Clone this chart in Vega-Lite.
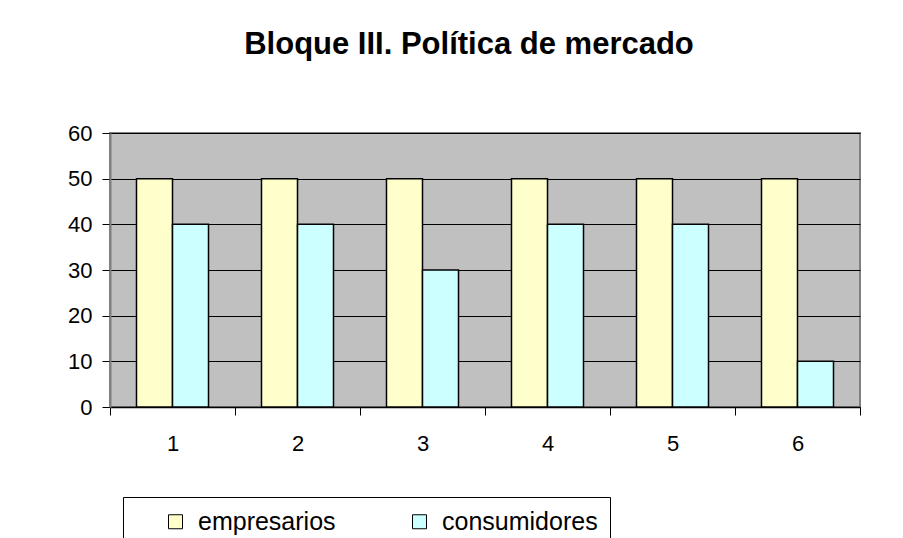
{
  "$schema": "https://vega.github.io/schema/vega-lite/v6.json",
  "autosize": "none",
  "width": 750,
  "height": 274,
  "padding": {"left": 110, "top": 133, "right": 43, "bottom": 131},
  "background": "white",
  "title": {
    "text": "Bloque III. Política de mercado",
    "font": "Liberation Sans",
    "fontSize": 31,
    "fontWeight": "bold",
    "color": "black",
    "anchor": "middle",
    "frame": "group",
    "baseline": "alphabetic",
    "offset": 37,
    "dx": -16
  },
  "data": {
    "values": [
      {"pregunta": "1", "grupo": "empresarios", "valor": 50},
      {"pregunta": "1", "grupo": "consumidores", "valor": 40},
      {"pregunta": "2", "grupo": "empresarios", "valor": 50},
      {"pregunta": "2", "grupo": "consumidores", "valor": 40},
      {"pregunta": "3", "grupo": "empresarios", "valor": 50},
      {"pregunta": "3", "grupo": "consumidores", "valor": 30},
      {"pregunta": "4", "grupo": "empresarios", "valor": 50},
      {"pregunta": "4", "grupo": "consumidores", "valor": 40},
      {"pregunta": "5", "grupo": "empresarios", "valor": 50},
      {"pregunta": "5", "grupo": "consumidores", "valor": 40},
      {"pregunta": "6", "grupo": "empresarios", "valor": 50},
      {"pregunta": "6", "grupo": "consumidores", "valor": 10}
    ]
  },
  "mark": {"type": "bar", "stroke": "black", "strokeWidth": 1.5},
  "encoding": {
    "x": {
      "field": "pregunta",
      "type": "nominal",
      "scale": {"paddingInner": 0, "paddingOuter": 0},
      "axis": {
        "title": null,
        "labelAngle": 0,
        "tickBand": "extent",
        "labelFont": "Liberation Sans",
        "labelFontSize": 22,
        "labelColor": "black",
        "labelPadding": 18,
        "tickSize": 8,
        "tickColor": "black",
        "domainColor": "black",
        "domainWidth": 1.5,
        "grid": false
      }
    },
    "xOffset": {
      "field": "grupo",
      "sort": ["empresarios", "consumidores"],
      "scale": {"paddingInner": 0, "paddingOuter": 0.736}
    },
    "y": {
      "field": "valor",
      "type": "quantitative",
      "scale": {"domain": [0, 60], "nice": false},
      "axis": {
        "title": null,
        "values": [0, 10, 20, 30, 40, 50, 60],
        "labelFont": "Liberation Sans",
        "labelFontSize": 22,
        "labelColor": "black",
        "labelPadding": 10,
        "tickSize": 8,
        "tickColor": "black",
        "domainColor": "#808080",
        "domainWidth": 2,
        "grid": true,
        "gridColor": "black",
        "gridOpacity": 1,
        "gridWidth": 1
      }
    },
    "fill": {
      "field": "grupo",
      "type": "nominal",
      "sort": ["empresarios", "consumidores"],
      "scale": {"domain": ["empresarios", "consumidores"], "range": ["#FFFFCC", "#CCFFFF"]},
      "legend": {
        "title": null,
        "orient": "none",
        "legendX": 13,
        "legendY": 364,
        "direction": "horizontal",
        "columns": 2,
        "symbolType": "square",
        "symbolSize": 196,
        "symbolStrokeColor": "black",
        "symbolStrokeWidth": 1,
        "symbolOffset": 28,
        "labelFont": "Liberation Sans",
        "labelFontSize": 25,
        "labelColor": "black",
        "labelOffset": 10,
        "columnPadding": 43,
        "padding": 12,
        "strokeColor": "black",
        "fillColor": "white"
      }
    }
  },
  "config": {
    "view": {"fill": "#C0C0C0", "stroke": "#808080", "strokeWidth": 2},
    "axis": {"tickWidth": 1}
  }
}
